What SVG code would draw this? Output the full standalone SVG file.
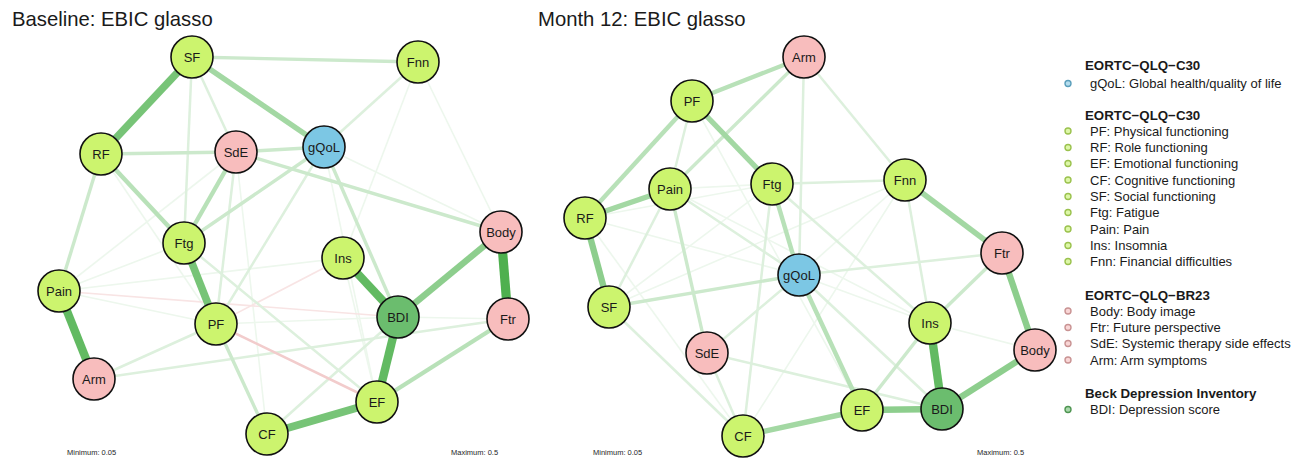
<svg xmlns="http://www.w3.org/2000/svg" width="1309" height="460" viewBox="0 0 1309 460">
<style>
text{font-family:"Liberation Sans",Arial,sans-serif;fill:#1a1a1a}
.title{font-size:20.3px}
.lbl{font-size:13px;text-anchor:middle}
.small{font-size:7.5px;fill:#262626}
.lh{font-size:13.3px;font-weight:bold}
.lt{font-size:13px}
line{stroke-linecap:butt}
.e1{stroke:#EDF7ED;stroke-width:1.6}
.e2{stroke:#DDF0DD;stroke-width:2.5}
.e3{stroke:#CCE9CC;stroke-width:3.4}
.e4{stroke:#B8E1B8;stroke-width:4.4}
.e5{stroke:#A3D8A3;stroke-width:5.4}
.e6{stroke:#8DCE8D;stroke-width:6.4}
.e7{stroke:#77C477;stroke-width:7.6}
.e8{stroke:#62BA62;stroke-width:8.4}
.e9{stroke:#4EB04E;stroke-width:9.2}
.n1{stroke:#F8E4E4;stroke-width:1.6}
.n2{stroke:#F2CCCC;stroke-width:2.6}
.nd{stroke:#111;stroke-width:1.6}
.g{fill:#CCF46E}
.p{fill:#F8BDBD}
.b{fill:#7CC7E4}
.d{fill:#6BBD6E}
.bl{stroke-width:1.4}
.bg{fill:#DDF7A8;stroke:#9BC24E}
.bp{fill:#F9D6D6;stroke:#C99393}
.bb{fill:#B5DDEE;stroke:#5A9EBB}
.bd{fill:#A9D8AB;stroke:#4F9552}
</style>
<text class="title" x="12" y="26">Baseline: EBIC glasso</text>
<text class="title" x="538" y="26">Month 12: EBIC glasso</text>
<g id="connectors">
<g id="baseline-edges">
<line class="e1" x1="101" y1="154" x2="216" y2="324"/>
<line class="e1" x1="236" y1="152" x2="267" y2="434"/>
<line class="e1" x1="324" y1="147" x2="501" y2="232"/>
<line class="e1" x1="324" y1="147" x2="377" y2="402"/>
<line class="e1" x1="418" y1="62" x2="501" y2="232"/>
<line class="e1" x1="418" y1="62" x2="343" y2="258"/>
<line class="e1" x1="184" y1="243" x2="59" y2="291"/>
<line class="e1" x1="59" y1="291" x2="343" y2="258"/>
<line class="e1" x1="59" y1="291" x2="216" y2="324"/>
<line class="e1" x1="59" y1="291" x2="236" y2="152"/>
<line class="e1" x1="216" y1="324" x2="398" y2="317"/>
<line class="e1" x1="343" y1="258" x2="377" y2="402"/>
<line class="e1" x1="398" y1="317" x2="508" y2="319"/>
<line class="n1" x1="59" y1="291" x2="398" y2="317"/>
<line class="n1" x1="216" y1="324" x2="343" y2="258"/>
<line class="e2" x1="192" y1="57" x2="236" y2="152"/>
<line class="e2" x1="192" y1="57" x2="184" y2="243"/>
<line class="e2" x1="236" y1="152" x2="216" y2="324"/>
<line class="e2" x1="324" y1="147" x2="418" y2="62"/>
<line class="e2" x1="324" y1="147" x2="216" y2="324"/>
<line class="e2" x1="184" y1="243" x2="377" y2="402"/>
<line class="e2" x1="94" y1="379" x2="216" y2="324"/>
<line class="e2" x1="94" y1="379" x2="508" y2="319"/>
<line class="e2" x1="398" y1="317" x2="267" y2="434"/>
<line class="n2" x1="216" y1="324" x2="377" y2="402"/>
<line class="e3" x1="192" y1="57" x2="418" y2="62"/>
<line class="e3" x1="101" y1="154" x2="236" y2="152"/>
<line class="e3" x1="236" y1="152" x2="324" y2="147"/>
<line class="e3" x1="101" y1="154" x2="59" y2="291"/>
<line class="e3" x1="236" y1="152" x2="501" y2="232"/>
<line class="e3" x1="324" y1="147" x2="184" y2="243"/>
<line class="e3" x1="324" y1="147" x2="398" y2="317"/>
<line class="e3" x1="216" y1="324" x2="267" y2="434"/>
<line class="e4" x1="101" y1="154" x2="184" y2="243"/>
<line class="e4" x1="236" y1="152" x2="184" y2="243"/>
<line class="e4" x1="377" y1="402" x2="508" y2="319"/>
<line class="e5" x1="192" y1="57" x2="324" y2="147"/>
<line class="e6" x1="398" y1="317" x2="501" y2="232"/>
<line class="e7" x1="192" y1="57" x2="101" y2="154"/>
<line class="e7" x1="184" y1="243" x2="216" y2="324"/>
<line class="e7" x1="267" y1="434" x2="377" y2="402"/>
<line class="e8" x1="59" y1="291" x2="94" y2="379"/>
<line class="e8" x1="343" y1="258" x2="398" y2="317"/>
<line class="e8" x1="398" y1="317" x2="377" y2="402"/>
<line class="e9" x1="501" y1="232" x2="508" y2="319"/>
</g>
<g id="month12-edges">
<line class="e1" x1="692" y1="101" x2="862" y2="410"/>
<line class="e1" x1="670" y1="189" x2="772" y2="184"/>
<line class="e1" x1="670" y1="189" x2="930" y2="323"/>
<line class="e1" x1="585" y1="218" x2="799" y2="275"/>
<line class="e1" x1="585" y1="218" x2="772" y2="184"/>
<line class="e1" x1="585" y1="218" x2="743" y2="436"/>
<line class="e1" x1="609" y1="307" x2="772" y2="184"/>
<line class="e1" x1="799" y1="275" x2="930" y2="323"/>
<line class="e1" x1="905" y1="180" x2="799" y2="275"/>
<line class="e1" x1="905" y1="180" x2="609" y2="307"/>
<line class="e1" x1="905" y1="180" x2="743" y2="436"/>
<line class="e1" x1="930" y1="323" x2="1035" y2="350"/>
<line class="e2" x1="804" y1="57" x2="799" y2="275"/>
<line class="e2" x1="804" y1="57" x2="905" y2="180"/>
<line class="e2" x1="692" y1="101" x2="670" y2="189"/>
<line class="e2" x1="670" y1="189" x2="609" y2="307"/>
<line class="e2" x1="670" y1="189" x2="799" y2="275"/>
<line class="e2" x1="609" y1="307" x2="743" y2="436"/>
<line class="e2" x1="772" y1="184" x2="905" y2="180"/>
<line class="e2" x1="772" y1="184" x2="743" y2="436"/>
<line class="e2" x1="772" y1="184" x2="930" y2="323"/>
<line class="e2" x1="799" y1="275" x2="942" y2="409"/>
<line class="e2" x1="799" y1="275" x2="707" y2="353"/>
<line class="e2" x1="799" y1="275" x2="1002" y2="253"/>
<line class="e2" x1="905" y1="180" x2="930" y2="323"/>
<line class="e2" x1="707" y1="353" x2="942" y2="409"/>
<line class="e2" x1="707" y1="353" x2="743" y2="436"/>
<line class="e3" x1="804" y1="57" x2="670" y2="189"/>
<line class="e3" x1="670" y1="189" x2="707" y2="353"/>
<line class="e3" x1="609" y1="307" x2="799" y2="275"/>
<line class="e3" x1="1002" y1="253" x2="930" y2="323"/>
<line class="e3" x1="930" y1="323" x2="862" y2="410"/>
<line class="e4" x1="804" y1="57" x2="692" y2="101"/>
<line class="e4" x1="692" y1="101" x2="585" y2="218"/>
<line class="e4" x1="772" y1="184" x2="799" y2="275"/>
<line class="e4" x1="799" y1="275" x2="862" y2="410"/>
<line class="e5" x1="692" y1="101" x2="772" y2="184"/>
<line class="e5" x1="670" y1="189" x2="585" y2="218"/>
<line class="e5" x1="905" y1="180" x2="1002" y2="253"/>
<line class="e5" x1="862" y1="410" x2="743" y2="436"/>
<line class="e6" x1="585" y1="218" x2="609" y2="307"/>
<line class="e6" x1="1002" y1="253" x2="1035" y2="350"/>
<line class="e6" x1="1035" y1="350" x2="942" y2="409"/>
<line class="e6" x1="862" y1="410" x2="942" y2="409"/>
<line class="e8" x1="930" y1="323" x2="942" y2="409"/>
</g>
</g>
<g id="baseline-nodes">
<g id="b-SF"><circle class="nd g" cx="192" cy="57" r="21"/><text class="lbl" x="192" y="61.5">SF</text></g>
<g id="b-Fnn"><circle class="nd g" cx="418" cy="62" r="21"/><text class="lbl" x="418" y="66.5">Fnn</text></g>
<g id="b-RF"><circle class="nd g" cx="101" cy="154" r="21"/><text class="lbl" x="101" y="158.5">RF</text></g>
<g id="b-SdE"><circle class="nd p" cx="236" cy="152" r="21"/><text class="lbl" x="236" y="156.5">SdE</text></g>
<g id="b-gQoL"><circle class="nd b" cx="324" cy="147" r="21"/><text class="lbl" x="324" y="151.5">gQoL</text></g>
<g id="b-Body"><circle class="nd p" cx="501" cy="232" r="21"/><text class="lbl" x="501" y="236.5">Body</text></g>
<g id="b-Ftg"><circle class="nd g" cx="184" cy="243" r="21"/><text class="lbl" x="184" y="247.5">Ftg</text></g>
<g id="b-Ins"><circle class="nd g" cx="343" cy="258" r="21"/><text class="lbl" x="343" y="262.5">Ins</text></g>
<g id="b-Pain"><circle class="nd g" cx="59" cy="291" r="21"/><text class="lbl" x="59" y="295.5">Pain</text></g>
<g id="b-PF"><circle class="nd g" cx="216" cy="324" r="21"/><text class="lbl" x="216" y="328.5">PF</text></g>
<g id="b-BDI"><circle class="nd d" cx="398" cy="317" r="21"/><text class="lbl" x="398" y="321.5">BDI</text></g>
<g id="b-Ftr"><circle class="nd p" cx="508" cy="319" r="21"/><text class="lbl" x="508" y="323.5">Ftr</text></g>
<g id="b-Arm"><circle class="nd p" cx="94" cy="379" r="21"/><text class="lbl" x="94" y="383.5">Arm</text></g>
<g id="b-EF"><circle class="nd g" cx="377" cy="402" r="21"/><text class="lbl" x="377" y="406.5">EF</text></g>
<g id="b-CF"><circle class="nd g" cx="267" cy="434" r="21"/><text class="lbl" x="267" y="438.5">CF</text></g>
</g>
<g id="month12-nodes">
<g id="m-Arm"><circle class="nd p" cx="804" cy="57" r="21"/><text class="lbl" x="804" y="61.5">Arm</text></g>
<g id="m-PF"><circle class="nd g" cx="692" cy="101" r="21"/><text class="lbl" x="692" y="105.5">PF</text></g>
<g id="m-Pain"><circle class="nd g" cx="670" cy="189" r="21"/><text class="lbl" x="670" y="193.5">Pain</text></g>
<g id="m-Ftg"><circle class="nd g" cx="772" cy="184" r="21"/><text class="lbl" x="772" y="188.5">Ftg</text></g>
<g id="m-Fnn"><circle class="nd g" cx="905" cy="180" r="21"/><text class="lbl" x="905" y="184.5">Fnn</text></g>
<g id="m-RF"><circle class="nd g" cx="585" cy="218" r="21"/><text class="lbl" x="585" y="222.5">RF</text></g>
<g id="m-SF"><circle class="nd g" cx="609" cy="307" r="21"/><text class="lbl" x="609" y="311.5">SF</text></g>
<g id="m-gQoL"><circle class="nd b" cx="799" cy="275" r="21"/><text class="lbl" x="799" y="279.5">gQoL</text></g>
<g id="m-SdE"><circle class="nd p" cx="707" cy="353" r="21"/><text class="lbl" x="707" y="357.5">SdE</text></g>
<g id="m-Ftr"><circle class="nd p" cx="1002" cy="253" r="21"/><text class="lbl" x="1002" y="257.5">Ftr</text></g>
<g id="m-Ins"><circle class="nd g" cx="930" cy="323" r="21"/><text class="lbl" x="930" y="327.5">Ins</text></g>
<g id="m-Body"><circle class="nd p" cx="1035" cy="350" r="21"/><text class="lbl" x="1035" y="354.5">Body</text></g>
<g id="m-EF"><circle class="nd g" cx="862" cy="410" r="21"/><text class="lbl" x="862" y="414.5">EF</text></g>
<g id="m-BDI"><circle class="nd d" cx="942" cy="409" r="21"/><text class="lbl" x="942" y="413.5">BDI</text></g>
<g id="m-CF"><circle class="nd g" cx="743" cy="436" r="21"/><text class="lbl" x="743" y="440.5">CF</text></g>
</g>
<text class="small" x="67" y="455">Minimum: 0.05</text>
<text class="small" x="451" y="455">Maximum: 0.5</text>
<text class="small" x="593" y="455">Minimum: 0.05</text>
<text class="small" x="977" y="455">Maximum: 0.5</text>
<g id="legend">
<text class="lh" x="1085" y="69.5">EORTC−QLQ−C30</text>
<circle class="bl bb" cx="1068" cy="83.5" r="3"/><text class="lt" x="1090" y="88">gQoL: Global health/quality of life</text>
<text class="lh" x="1085" y="119.5">EORTC−QLQ−C30</text>
<circle class="bl bg" cx="1068" cy="131" r="3"/><text class="lt" x="1090" y="135.5">PF: Physical functioning</text>
<circle class="bl bg" cx="1068" cy="147.5" r="3"/><text class="lt" x="1090" y="152">RF: Role functioning</text>
<circle class="bl bg" cx="1068" cy="163.5" r="3"/><text class="lt" x="1090" y="168">EF: Emotional functioning</text>
<circle class="bl bg" cx="1068" cy="180" r="3"/><text class="lt" x="1090" y="184.5">CF: Cognitive functioning</text>
<circle class="bl bg" cx="1068" cy="196.5" r="3"/><text class="lt" x="1090" y="201">SF: Social functioning</text>
<circle class="bl bg" cx="1068" cy="212.5" r="3"/><text class="lt" x="1090" y="217">Ftg: Fatigue</text>
<circle class="bl bg" cx="1068" cy="229" r="3"/><text class="lt" x="1090" y="233.5">Pain: Pain</text>
<circle class="bl bg" cx="1068" cy="245.5" r="3"/><text class="lt" x="1090" y="250">Ins: Insomnia</text>
<circle class="bl bg" cx="1068" cy="261.5" r="3"/><text class="lt" x="1090" y="266">Fnn: Financial difficulties</text>
<text class="lh" x="1085" y="299.5">EORTC−QLQ−BR23</text>
<circle class="bl bp" cx="1068" cy="311" r="3"/><text class="lt" x="1090" y="315.5">Body: Body image</text>
<circle class="bl bp" cx="1068" cy="327.5" r="3"/><text class="lt" x="1090" y="332">Ftr: Future perspective</text>
<circle class="bl bp" cx="1068" cy="343.5" r="3"/><text class="lt" x="1090" y="348">SdE: Systemic therapy side effects</text>
<circle class="bl bp" cx="1068" cy="360" r="3"/><text class="lt" x="1090" y="364.5">Arm: Arm symptoms</text>
<text class="lh" x="1085" y="397.5">Beck Depression Inventory</text>
<circle class="bl bd" cx="1068" cy="409.5" r="3"/><text class="lt" x="1090" y="414">BDI: Depression score</text>
</g>
</svg>
